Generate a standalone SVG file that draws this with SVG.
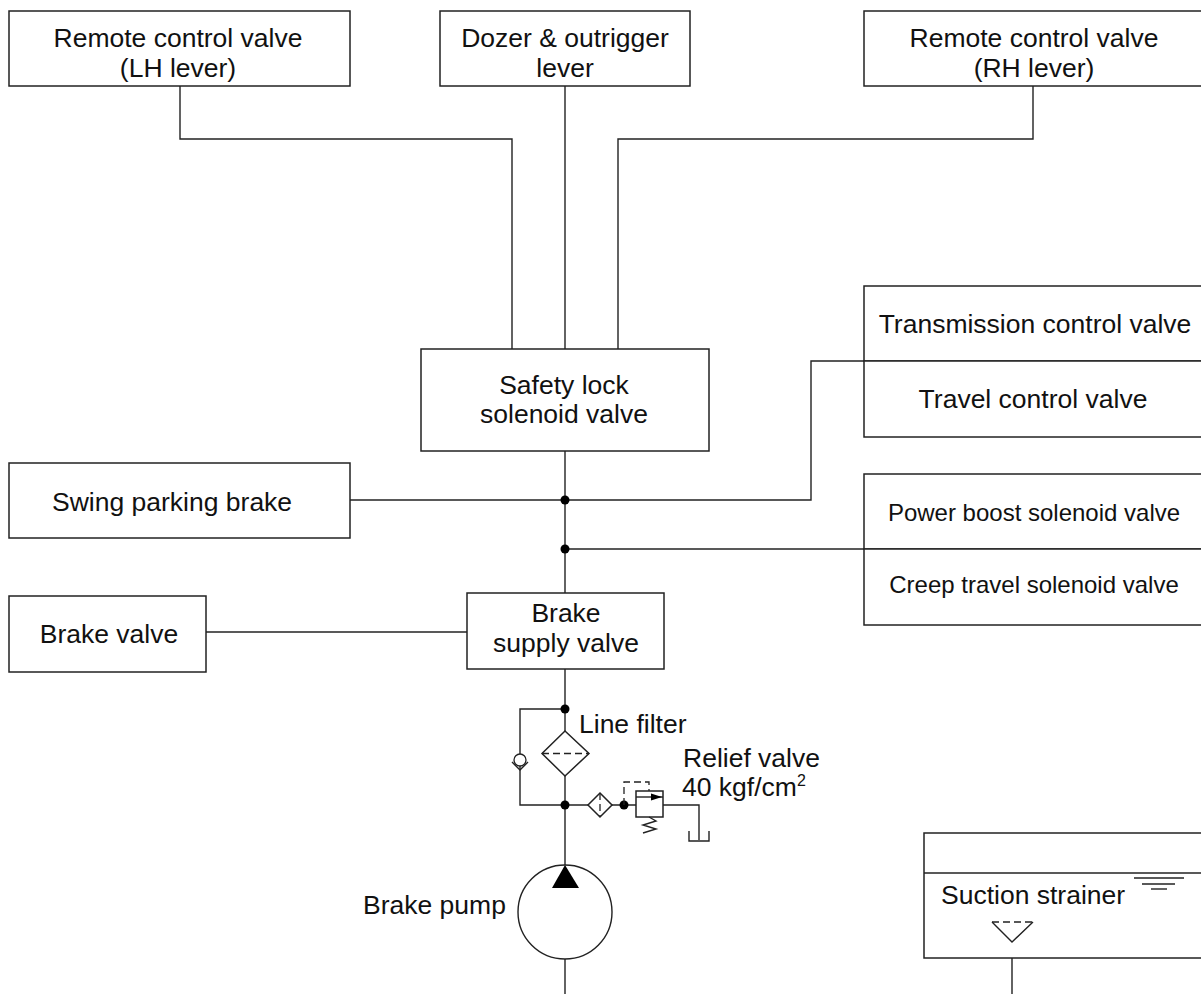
<svg xmlns="http://www.w3.org/2000/svg" width="1201" height="994" viewBox="0 0 1201 994">
<style>
.box{fill:#fff;stroke:#222;stroke-width:1.5}
.ln{fill:none;stroke:#222;stroke-width:1.4}
.dash{fill:none;stroke:#222;stroke-width:1.3;stroke-dasharray:7,4}
.dot{fill:#000}
text{font-family:"Liberation Sans",Arial,sans-serif;font-size:26.5px;fill:#111}
.c{text-anchor:middle}
.s{font-size:24px}
</style>
<rect width="1201" height="994" fill="#fff"/>
<g id="connectors">
<polyline class="ln" points="180,86 180,139 512,139 512,349"/>
<line class="ln" x1="565" y1="86" x2="565" y2="349"/>
<polyline class="ln" points="1033,86 1033,139 618,139 618,349"/>
<line class="ln" x1="565" y1="451" x2="565" y2="593"/>
<line class="ln" x1="350" y1="500" x2="565" y2="500"/>
<polyline class="ln" points="565,500 811,500 811,361 864,361"/>
<line class="ln" x1="565" y1="549" x2="864" y2="549"/>
<line class="ln" x1="206" y1="632" x2="467" y2="632"/>
<line class="ln" x1="565" y1="669" x2="565" y2="865"/>
<polyline class="ln" points="565,709 520,709 520,805 565,805"/>
<line class="ln" x1="565" y1="805" x2="636" y2="805"/>
<polyline class="ln" points="663,805 699,805 699,840"/>
<line class="ln" x1="565" y1="958" x2="565" y2="994"/>
<line class="ln" x1="1012" y1="942" x2="1012" y2="994"/>
<circle class="dot" cx="565" cy="500" r="4.5"/>
<circle class="dot" cx="565" cy="549" r="4.5"/>
<circle class="dot" cx="565" cy="709" r="4.5"/>
<circle class="dot" cx="565" cy="805" r="4.5"/>
<circle class="dot" cx="624" cy="805" r="4.5"/>
</g>
<g id="lh-remote">
<rect class="box" x="9" y="11" width="341" height="75"/>
<text class="c" x="178" y="47">Remote control valve</text>
<text class="c" x="178" y="77">(LH lever)</text>
</g>
<g id="dozer">
<rect class="box" x="440" y="11" width="250" height="75"/>
<text class="c" x="565" y="47">Dozer &amp; outrigger</text>
<text class="c" x="565" y="77">lever</text>
</g>
<g id="rh-remote">
<rect class="box" x="864" y="11" width="345" height="75"/>
<text class="c" x="1034" y="47">Remote control valve</text>
<text class="c" x="1034" y="77">(RH lever)</text>
</g>
<g id="safety-lock">
<rect class="box" x="421" y="349" width="288" height="102"/>
<text class="c" x="564" y="394">Safety lock</text>
<text class="c" x="564" y="423">solenoid valve</text>
</g>
<g id="transmission">
<rect class="box" x="864" y="286" width="345" height="75"/>
<text class="c" x="1035" y="333">Transmission control valve</text>
</g>
<g id="travel">
<rect class="box" x="864" y="361" width="345" height="76"/>
<text class="c" x="1033" y="408">Travel control valve</text>
</g>
<g id="swing-brake">
<rect class="box" x="9" y="463" width="341" height="75"/>
<text x="52" y="511">Swing parking brake</text>
</g>
<g id="power-boost">
<rect class="box" x="864" y="474" width="345" height="75"/>
<text class="c s" x="1034" y="521">Power boost solenoid valve</text>
</g>
<g id="creep">
<rect class="box" x="864" y="549" width="345" height="76"/>
<text class="c s" x="1034" y="593">Creep travel solenoid valve</text>
</g>
<g id="brake-valve">
<rect class="box" x="9" y="596" width="197" height="76"/>
<text class="c" x="109" y="643">Brake valve</text>
</g>
<g id="brake-supply">
<rect class="box" x="467" y="593" width="197" height="76"/>
<text class="c" x="566" y="622">Brake</text>
<text class="c" x="566" y="652">supply valve</text>
</g>
<g id="check-valve">
<circle cx="520" cy="760" r="6" fill="#fff" stroke="#222" stroke-width="1.3"/>
<polyline class="ln" points="512,762 520,770 528,762"/>
</g>
<g id="line-filter">
<polygon class="box" points="565,731 589,753.5 565,776 542,753.5" stroke-width="1.4"/>
<line class="dash" x1="542" y1="753.5" x2="589" y2="753.5"/>
<text x="579" y="733">Line filter</text>
</g>
<g id="small-filter">
<polygon class="box" points="600,793 612,805 600,817 588,805" stroke-width="1.3"/>
<line class="dash" x1="600" y1="793" x2="600" y2="817" stroke-dasharray="4,3"/>
</g>
<g id="relief-valve">
<polyline class="dash" points="624,805 624,782 649,782 649,791" stroke-dasharray="5,3"/>
<rect class="box" x="636" y="791" width="27" height="26" stroke-width="1.4"/>
<line class="ln" x1="636" y1="797" x2="663" y2="797"/>
<polygon class="dot" points="651,793.5 662,797 651,800.5"/>
<polyline class="ln" points="649,817 656,821 643,825 656,829 643,833"/>
<polyline class="ln" points="689,831 689,841 709,841 709,831"/>
<text x="683" y="767">Relief valve</text>
<text x="682" y="796">40 kgf/cm<tspan font-size="16" dy="-10">2</tspan></text>
</g>
<g id="brake-pump">
<circle cx="565" cy="912" r="47" fill="#fff" stroke="#222" stroke-width="1.4"/>
<polygon class="dot" points="565,865 552,888 579,888"/>
<text x="363" y="914">Brake pump</text>
</g>
<g id="suction-strainer">
<rect class="box" x="924" y="833" width="285" height="125"/>
<line class="ln" x1="924" y1="873" x2="1201" y2="873"/>
<text x="941" y="904">Suction strainer</text>
<line class="ln" x1="1134" y1="878" x2="1184" y2="878" stroke-width="1.2"/>
<line class="ln" x1="1142" y1="884" x2="1175" y2="884" stroke-width="1.2"/>
<line class="ln" x1="1151" y1="889" x2="1167" y2="889" stroke-width="1.2"/>
<polyline class="ln" points="992,922 1012,942 1033,922" stroke-width="1.2"/>
<line class="dash" x1="992" y1="922" x2="1033" y2="922" stroke-dasharray="6,4" stroke-width="1.2"/>
</g>
</svg>
